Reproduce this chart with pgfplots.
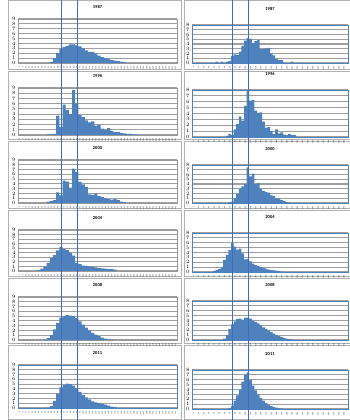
\documentclass[border=0pt]{standalone}
\usepackage{pgfplots}
\pgfplotsset{compat=1.18}
\usepackage{fontspec}
\setmainfont{Carlito}
\definecolor{barblue}{HTML}{4F81BD}
\definecolor{lineblue}{RGB}{60,110,196}
\pgfplotsset{
 base/.style={scale only axis, anchor=north west, clip=false, ymin=0,
   ymajorgrids, major grid style={line width=1.1pt, color=gray!75},
   tick style={draw=none},
   yticklabel style={font=\fontsize{1.8}{2}\selectfont, xshift=1pt},
   xticklabel style={font=\fontsize{1.8}{2}\selectfont, rotate=90, anchor=east},
   title style={font=\fontsize{4.5}{5}\selectfont\bfseries, anchor=south, at={(0.5,1)}},
 },
 leftp/.style={base, width=159pt, xmin=-0.5, xmax=49.5, ymax=9, ytick={0,...,9},
   xtick={0,...,49}, xticklabel={\pgfmathparse{int(5*\tick)}\pgfmathresult},
   axis line style={gray!80, line width=0.6pt}, title style={yshift=1pt}},
 leftb/.style={axis line style={barblue, line width=0.8pt}},
 rightp/.style={base, width=156pt, xmin=-0.5, xmax=59.5, ymax=8, ytick={0,...,8},
   xtick={0,2,...,58}, xticklabel={\pgfmathparse{int(5*\tick)}\pgfmathresult},
   axis line style={barblue, line width=0.8pt}, title style={yshift=5pt}},
 bars/.style={ybar, bar width=1, fill=barblue, draw=none},
 vl/.style={fill=lineblue, draw=none, mark=none},
}
\begin{document}
\begin{tikzpicture}
\useasboundingbox (0pt,0pt) rectangle (349pt,-420pt);
% panel frames
\foreach \t/\b in {1/69,71/139,141/208,210/276,278/343,345/419}{
  \draw[gray!60, line width=1pt] (8pt,-\t pt) rectangle (181pt,-\b pt);
  \draw[gray!60, line width=1pt] (184pt,-\t pt) rectangle (352pt,-\b pt);
}
% ---------------- LEFT COLUMN ----------------
\begin{axis}[leftp, at={(18pt,-19pt)}, height=44pt, title={1987}]
\addplot[bars] coordinates {(10,0.2)(11,1.0)(12,2.0)(13,2.9)(14,3.3)(15,3.5)(16,3.8)(17,3.8)(18,3.6)(19,3.4)(20,3.0)(21,2.6)(22,2.3)(23,2.3)(24,1.9)(25,1.5)(26,1.2)(27,1.0)(28,0.8)(29,0.6)(30,0.5)(31,0.4)(32,0.3)(33,0.2)};
\end{axis}
\begin{axis}[leftp, at={(18pt,-88pt)}, height=47pt, title={1996}]
\addplot[bars] coordinates {(9,0.1)(10,0.1)(11,0.2)(12,3.7)(13,1.5)(14,5.8)(15,4.8)(16,4.0)(17,8.6)(18,6.0)(19,3.8)(20,3.4)(21,2.8)(22,2.4)(23,2.6)(24,1.8)(25,2.0)(26,1.2)(27,1.0)(28,1.3)(29,0.8)(30,0.6)(31,0.6)(32,0.4)(33,0.3)(34,0.2)(35,0.2)(36,0.1)(37,0.1)};
\end{axis}
\begin{axis}[leftp, at={(18pt,-160pt)}, height=43pt, title={2000}]
\addplot[bars] coordinates {(9,0.3)(10,0.4)(11,0.6)(12,2.2)(13,1.6)(14,4.7)(15,4.5)(16,3.2)(17,7.2)(18,6.5)(19,4.4)(20,3.9)(21,3.4)(22,1.8)(23,1.7)(24,2.0)(25,1.5)(26,1.3)(27,1.0)(28,0.8)(29,0.7)(30,0.8)(31,0.6)(32,0.3)(33,0.2)};
\end{axis}
\begin{axis}[leftp, at={(18pt,-230pt)}, height=41pt, title={2004}]
\addplot[bars] coordinates {(6,0.2)(7,0.5)(8,1.0)(9,1.8)(10,2.8)(11,3.5)(12,4.5)(13,5.3)(14,4.8)(15,4.6)(16,4.0)(17,3.4)(18,1.8)(19,1.5)(20,1.2)(21,1.1)(22,1.0)(23,0.9)(24,0.8)(25,0.7)(26,0.6)(27,0.5)(28,0.4)(29,0.4)(30,0.3)};
\end{axis}
\begin{axis}[leftp, at={(18pt,-297pt)}, height=43pt, title={2008}]
\addplot[bars] coordinates {(8,0.1)(9,0.4)(10,1.0)(11,2.2)(12,3.6)(13,4.7)(14,5.0)(15,5.2)(16,5.1)(17,5.0)(18,4.6)(19,3.9)(20,3.2)(21,2.6)(22,2.0)(23,1.5)(24,1.1)(25,0.8)(26,0.5)(27,0.3)(28,0.2)(29,0.1)};
\end{axis}
\begin{axis}[leftp, leftb, at={(18pt,-365pt)}, height=43pt, title={2011}]
\addplot[bars] coordinates {(9,0.1)(10,0.4)(11,1.5)(12,3.0)(13,4.3)(14,4.9)(15,5.1)(16,5.0)(17,4.7)(18,4.1)(19,3.4)(20,2.7)(21,2.2)(22,1.8)(23,1.4)(24,1.2)(25,1.0)(26,0.8)(27,0.7)(28,0.5)(29,0.3)(30,0.2)};
\addplot[vl] coordinates {(12.9,-4) (13.47,-4) (13.47,92) (12.9,92)};
\addplot[vl] coordinates {(17.92,-4) (18.49,-4) (18.49,92) (17.92,92)};
\end{axis}
% ---------------- RIGHT COLUMN ----------------
\begin{axis}[rightp, at={(192pt,-25pt)}, height=38pt, title={1987}]
\addplot[bars] coordinates {(9,0.3)(11,0.3)(13,0.3)(14,0.4)(15,1.5)(16,1.8)(17,1.7)(18,2.4)(19,3.6)(20,4.7)(21,5.3)(22,5.1)(23,4.2)(24,4.6)(25,4.8)(26,3.0)(27,3.0)(28,3.1)(29,3.2)(30,2.0)(31,1.6)(32,0.8)(33,0.6)(34,0.6)(35,0.1)(38,0.3)};
\end{axis}
\begin{axis}[rightp, at={(192pt,-90pt)}, height=47pt, title={1996}]
\addplot[bars] coordinates {(13,0.2)(14,0.5)(15,0.3)(16,1.3)(17,2.2)(18,3.5)(19,2.8)(20,5.3)(21,7.8)(22,6.2)(23,6.3)(24,4.5)(25,4.1)(26,4.2)(27,2.6)(28,1.6)(29,1.7)(30,1.0)(31,0.5)(32,1.3)(33,0.6)(34,0.8)(35,0.4)(36,0.3)(37,0.5)(38,0.3)(39,0.3)};
\end{axis}
\begin{axis}[rightp, at={(192pt,-165pt)}, height=38pt, title={2000}]
\addplot[bars] coordinates {(14,0.2)(15,0.3)(16,1.0)(17,2.0)(18,3.0)(19,3.5)(20,4.0)(21,7.5)(22,5.6)(23,6.2)(24,4.0)(25,4.2)(26,3.0)(27,2.5)(28,2.3)(29,2.2)(30,1.6)(31,1.5)(32,1.0)(33,0.9)(34,0.6)(35,0.4)(36,0.2)(37,0.1)};
\end{axis}
\begin{axis}[rightp, at={(192pt,-233pt)}, height=39pt, title={2004}]
\addplot[bars] coordinates {(8,0.2)(9,0.4)(10,0.6)(11,1.0)(12,2.5)(13,3.5)(14,4.5)(15,5.9)(16,5.2)(17,4.6)(18,4.8)(19,3.8)(20,2.6)(21,2.7)(22,2.2)(23,1.7)(24,1.4)(25,1.2)(26,1.0)(27,0.8)(28,0.7)(29,0.5)(30,0.4)(31,0.35)(32,0.3)(33,0.2)(34,0.1)};
\end{axis}
\begin{axis}[rightp, at={(192pt,-301pt)}, height=39pt, title={2008}]
\addplot[bars] coordinates {(12,0.3)(13,1.0)(14,2.3)(15,3.2)(16,3.8)(17,4.3)(18,4.4)(19,4.2)(20,4.6)(21,4.6)(22,4.4)(23,4.0)(24,3.7)(25,3.4)(26,3.0)(27,2.6)(28,2.3)(29,2.0)(30,1.6)(31,1.3)(32,1.0)(33,0.8)(34,0.6)(35,0.4)(36,0.3)(37,0.2)(38,0.1)};
\end{axis}
\begin{axis}[rightp, at={(192pt,-370pt)}, height=39pt, title={2011}]
\addplot[bars] coordinates {(14,0.2)(15,0.6)(16,1.7)(17,2.8)(18,4.0)(19,5.6)(20,7.0)(21,7.5)(22,6.0)(23,4.8)(24,3.8)(25,3.0)(26,2.3)(27,1.7)(28,1.2)(29,0.9)(30,0.6)(31,0.4)(32,0.3)(33,0.2)(34,0.1)};
\addplot[vl] coordinates {(14.74,-4) (15.42,-4) (15.42,92) (14.74,92)};
\addplot[vl] coordinates {(20.89,-4) (21.57,-4) (21.57,92) (20.89,92)};
\end{axis}
\end{tikzpicture}
\end{document}
